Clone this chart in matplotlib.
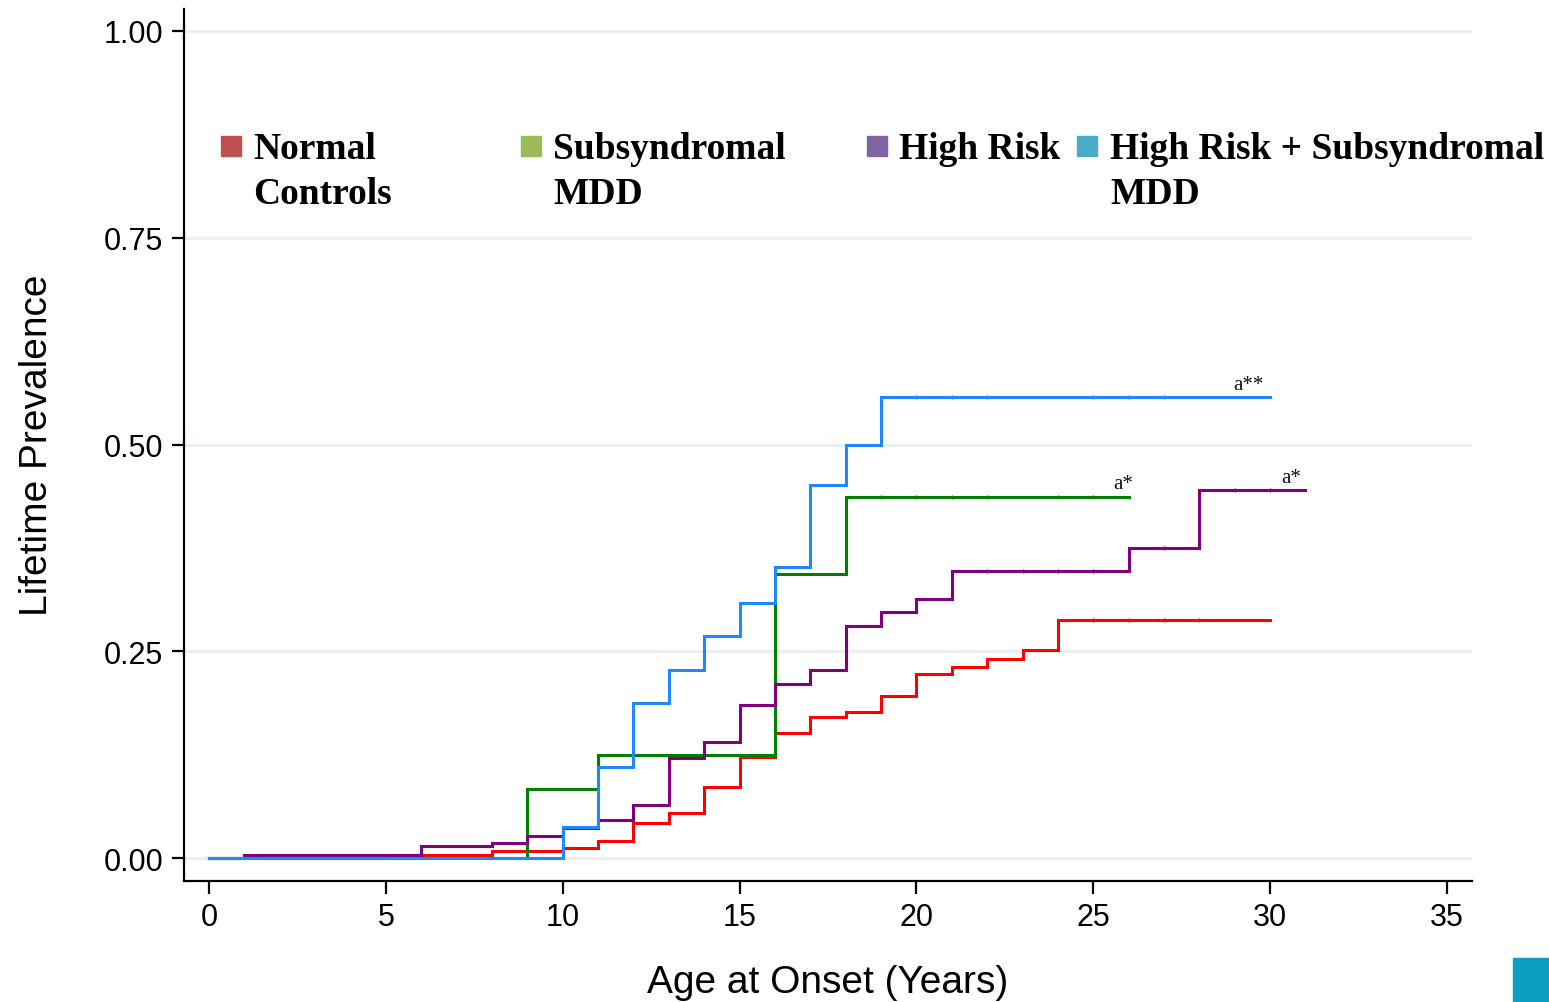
import matplotlib
matplotlib.use("Agg")
import matplotlib.pyplot as plt
from matplotlib.patches import Rectangle

# ---- data ----
nc_x = [0, 5, 8, 10, 11, 12, 13, 14, 15, 16, 17, 18, 19, 20, 21, 22, 23, 24, 30]
nc_y = [0.0, 0.004, 0.008, 0.012, 0.021, 0.042, 0.055, 0.086, 0.122, 0.151, 0.171, 0.176, 0.196, 0.222, 0.231, 0.241, 0.252, 0.288, 0.288]

sub_x = [0, 9, 11, 16, 18, 26]
sub_y = [0.0, 0.083, 0.125, 0.344, 0.437, 0.437]

hr_x = [0, 1, 6, 8, 9, 10, 11, 12, 13, 14, 15, 16, 17, 18, 19, 20, 21, 26, 28, 31]
hr_y = [0.0, 0.004, 0.014, 0.018, 0.027, 0.036, 0.0455, 0.064, 0.121, 0.140, 0.185, 0.210, 0.227, 0.280, 0.298, 0.313, 0.347, 0.375, 0.445, 0.445]

hrs_x = [0, 10, 11, 12, 13, 14, 15, 16, 17, 18, 19, 30]
hrs_y = [0.0, 0.037, 0.110, 0.188, 0.227, 0.268, 0.308, 0.352, 0.451, 0.500, 0.557, 0.557]

# censoring marks (x positions)
nc_cens = [25, 26, 27, 28]
sub_cens = [19, 20, 21, 22, 24, 25]
hr_cens = [22, 23, 24, 25, 27, 29, 30]
hrs_cens = [20, 21, 22, 25, 26, 27]

legend_labels = ["Normal\nControls", "Subsyndromal\nMDD", "High Risk", "High Risk + Subsyndromal\nMDD"]
legend_colors = ["#C0504D", "#9BBB59", "#8064A2", "#4BACC6"]

annotations = [("a**", 29.4, 0.557), ("a*", 25.85, 0.437), ("a*", 30.6, 0.445)]

xticks = [0, 5, 10, 15, 20, 25, 30, 35]
yticks = [0.0, 0.25, 0.5, 0.75, 1.0]

W, H = 1549, 1003
fig = plt.figure(figsize=(W / 100, H / 100), dpi=100)
ax = fig.add_axes([184 / W, 1 - 882 / H, (1472 - 184) / W, (882 - 10) / H])

ax.set_xlim(-0.71, 35.71)
ax.set_ylim(-0.0278, 1.0266)

for v in yticks:
    ax.axhline(v, color="#E8F0F1", lw=2.2, zorder=0)

series = [
    (nc_x, nc_y, "#FF0000", nc_cens),
    (sub_x, sub_y, "#008000", sub_cens),
    (hr_x, hr_y, "#800080", hr_cens),
    (hrs_x, hrs_y, "#1E88FF", hrs_cens),
]

def step_val(xs, ys, xv):
    val = ys[0]
    for a, b in zip(xs, ys):
        if a <= xv:
            val = b
    return val

for xs, ys, c, cens in series:
    ax.step(xs, ys, where="post", color=c, lw=2.2, zorder=3, solid_joinstyle="miter")
    cy = [step_val(xs, ys, cx) for cx in cens]
    ax.plot(cens, cy, linestyle="none", marker="|", markersize=3, mew=1.0, color=c, zorder=3)

for txt, xx, yy in annotations:
    ax.text(xx, yy + 0.004, txt, ha="center", va="bottom", fontsize=15,
            family="Liberation Serif", color="#111111")

ax.spines["top"].set_visible(False)
ax.spines["right"].set_visible(False)
ax.spines["left"].set_linewidth(1.6)
ax.spines["bottom"].set_linewidth(1.6)
ax.set_xticks(xticks)
ax.set_yticks(yticks)
ax.set_yticklabels([f"{v:.2f}" for v in yticks])
ax.tick_params(axis="both", direction="out", length=9, width=1.6, labelsize=22, pad=6)
for lab in ax.get_xticklabels() + ax.get_yticklabels():
    lab.set_family("Liberation Sans")

fig.text(37 / W, 1 - 445 / H, "Lifetime Prevalence", rotation=90, ha="center", va="center",
         fontsize=28, family="Liberation Sans")
fig.text(828 / W, 1 - 983 / H, "Age at Onset (Years)", ha="center", va="center",
         fontsize=28, family="Liberation Sans")

# legend (manual)
leg_marker_x = [221, 521, 867, 1077]
leg_text_x = [253, 553, 899, 1110]
for mx, tx, lab, col in zip(leg_marker_x, leg_text_x, legend_labels, legend_colors):
    fig.patches.append(Rectangle((mx / W, 1 - 157 / H), 20 / W, 20 / H,
                                 transform=fig.transFigure, color=col, zorder=5))
    fig.text(tx / W, 1 - 132 / H, lab, ha="left", va="top", fontsize=27,
             family="Liberation Serif", weight="bold", linespacing=1.38)

# teal square bottom right
fig.patches.append(Rectangle((1513 / W, 0), 36 / W, 44 / H, transform=fig.transFigure,
                             color="#0A9EC0", zorder=5))

fig.savefig("out.png", dpi=100)
